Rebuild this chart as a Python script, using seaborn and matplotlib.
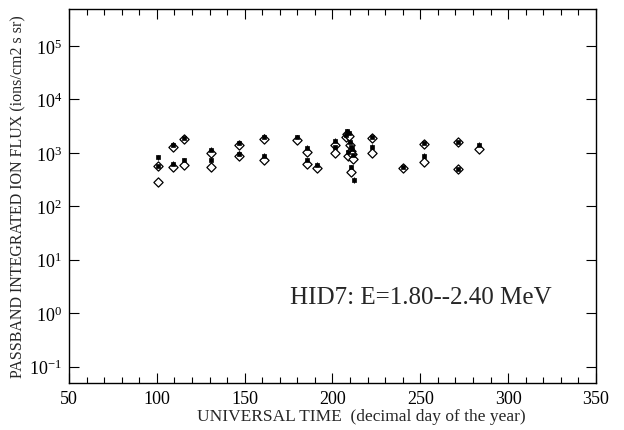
import numpy as np
import pandas as pd
import seaborn as sns
import matplotlib.pyplot as plt
from matplotlib.ticker import MultipleLocator, LogLocator, LogFormatterMathtext, NullLocator

# values (day of year, flux)
days = [100.5, 100.5, 109.4, 109.4, 115.3, 115.3, 130.6, 130.6, 146.9, 146.9,
        161.1, 161.1, 179.6, 185.6, 185.6, 191.2, 201.4, 201.4, 207.5, 208.5,
        209.0, 209.5, 210.0, 210.5, 211.0, 211.5, 210.5, 212.0, 222.3, 222.3,
        240.3, 252.0, 252.0, 271.6, 271.6, 283.5]
flux_square = [820, 570, 1430, 620, 1920, 730, 1130, 730, 1500, 970,
               2000, 870, 1970, 1240, 730, 600, 1700, 1260, 2150, 2550,
               1020, 2350, 1620, 1300, 1180, 920, 540, 310, 1950, 1300,
               540, 1510, 870, 1620, 490, 1430]
flux_diamond = [570, 290, 1300, 540, 1790, 580, 980, 540, 1400, 870,
                1790, 730, 1730, 1060, 620, 510, 1420, 980, 1950, 2250,
                860, 2050, 1400, 1080, 970, 760, 440, np.nan, 1920, 980,
                530, 1490, 670, 1620, 490, 1190]

XLabel = 'UNIVERSAL TIME  (decimal day of the year)'
YLabel = 'PASSBAND INTEGRATED ION FLUX (ions/cm2 s sr)'
Note = 'HID7: E=1.80--2.40 MeV'

df = pd.DataFrame({'day': days, 'sq': flux_square, 'dm': flux_diamond})

sns.set_theme(style='ticks')
plt.rcParams['font.family'] = ['Liberation Serif', 'DejaVu Serif']
plt.rcParams['mathtext.fontset'] = 'custom'
plt.rcParams['mathtext.rm'] = 'Liberation Serif'
plt.rcParams['mathtext.it'] = 'Liberation Serif:italic'
plt.rcParams['axes.unicode_minus'] = False

fig = plt.figure(figsize=(6.24, 4.31), dpi=100)
ax = fig.add_axes([0.1106, 0.110, 0.8444, 0.8675])

ErrFrac = 0.12
ax.errorbar(df['day'], df['dm'], yerr=df['dm'] * ErrFrac, fmt='none',
            ecolor='black', elinewidth=0.8, capsize=0)
ax.errorbar(df['day'], df['sq'], yerr=df['sq'] * ErrFrac, fmt='none',
            ecolor='black', elinewidth=0.8, capsize=0)
sns.scatterplot(data=df, x='day', y='dm', marker='D', s=22, facecolor='white',
                edgecolor='black', linewidth=0.9, ax=ax, zorder=3)
sns.scatterplot(data=df, x='day', y='sq', marker='s', s=12, color='black',
                edgecolor='black', linewidth=0.5, ax=ax, zorder=4)

ax.set_yscale('log')
ax.set_xlim(50, 350)
ax.set_ylim(0.05, 5e5)

ax.xaxis.set_major_locator(MultipleLocator(50))
ax.xaxis.set_minor_locator(MultipleLocator(10))
ax.yaxis.set_major_locator(LogLocator(base=10, numticks=20))
ax.yaxis.set_major_formatter(LogFormatterMathtext())
ax.yaxis.set_minor_locator(NullLocator())

ax.tick_params(which='both', direction='in', top=True, right=True,
               colors='black', labelsize=13, pad=5)
ax.tick_params(which='major', length=7, width=0.8)
ax.tick_params(which='minor', length=4, width=0.8)
for sp in ax.spines.values():
    sp.set_color('black')
    sp.set_linewidth(1.0)

ax.set_xlabel(XLabel, fontsize=12.5)
ax.xaxis.set_label_coords(0.554, -0.068)
ax.set_ylabel(YLabel, fontsize=11.5, labelpad=2)

ax.text(0.42, 0.229, Note, transform=ax.transAxes, fontsize=18,
        ha='left', va='center')

plt.savefig('out.png', dpi=100)
